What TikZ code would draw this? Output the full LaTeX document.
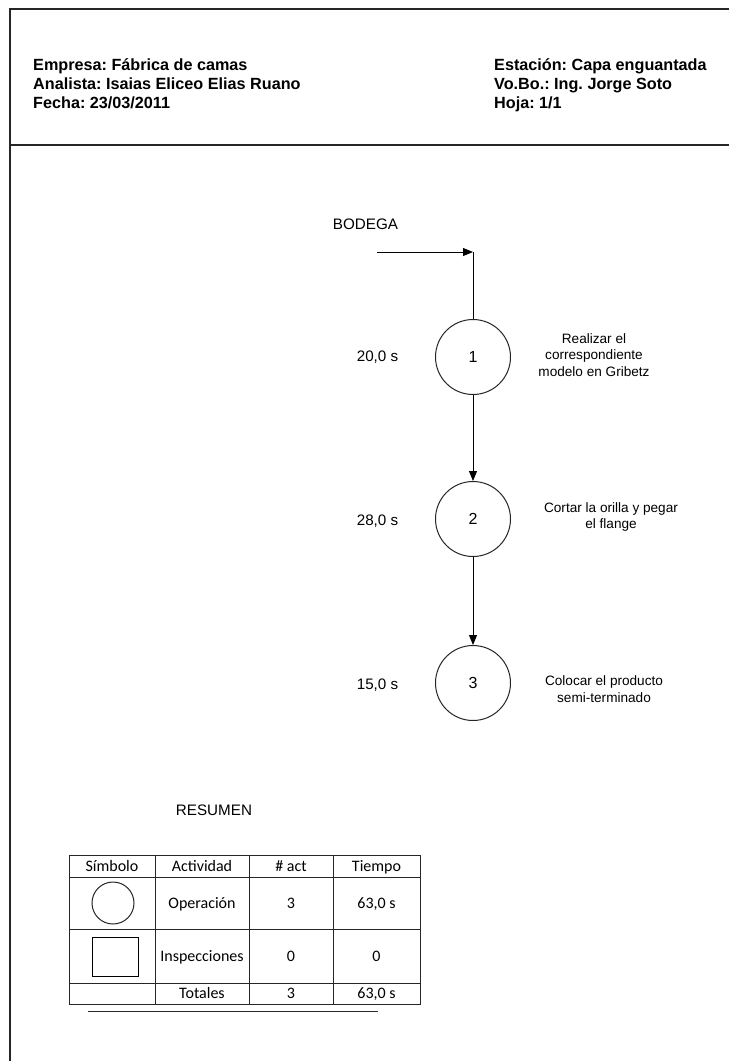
\documentclass[tikz,border=0pt]{standalone}
\usepackage{fontspec}
\setmainfont{Liberation Sans}
\newfontfamily\tabfont{Carlito}
\usetikzlibrary{arrows.meta}
\frenchspacing
\begin{document}
\begin{tikzpicture}[x=1pt,y=-1pt,
  frame/.style={line width=1.2pt,draw=black!85},
  head/.style={font=\fontsize{16.2}{18}\selectfont\bfseries,anchor=base west,inner sep=0},
  plain/.style={font=\fontsize{15.2}{18}\selectfont,inner sep=0,text height=11pt,text depth=0pt},
  desc/.style={font=\fontsize{13.6}{16.3}\selectfont,align=center,inner sep=0},
  opcircle/.style={circle,draw=black!85,line width=1pt,minimum size=75pt,inner sep=0,font=\fontsize{16}{18}\selectfont},
  flow/.style={line width=1pt,-{Triangle[length=10pt,width=8pt]}},
  tline/.style={line width=1pt,draw=black!85},
  cell/.style={font=\tabfont\fontsize{16}{18}\selectfont,inner sep=0,text height=11pt,text depth=3pt}]
\useasboundingbox (0,0) rectangle (729,1061);
\fill[white] (0,0) rectangle (729,1061);

% page frame and header band
\draw[frame] (729,9) -- (10,9) -- (10,1061);
\draw[frame] (10,145) -- (729,145);

\node[head] (emp) at (33,70) {Empresa: Fábrica de camas};
\node[head] (ana) at (33,89) {Analista: Isaias Eliceo Elias Ruano};
\node[head] (fec) at (33,108) {Fecha: 23/03/2011};
\node[head] (est) at (494,70) {Estación: Capa enguantada};
\node[head] (vob) at (494,89) {Vo.Bo.: Ing. Jorge Soto};
\node[head] (hoj) at (494,108) {Hoja: 1/1};

% process flow
\node[plain] (bodega) at (365.5,224) {BODEGA};
\coordinate (in) at (377,252);
\coordinate (turn) at (473,252);

\node[opcircle] (op1) at (473,357) {1};
\node[opcircle] (op2) at (473,519) {2};
\node[opcircle] (op3) at (473,683) {3};

\draw[flow] (in) -- (turn);
\draw[line width=1pt] (turn) -- (op1.north);
\draw[flow] (op1) -- (op2);
\draw[flow] (op2) -- (op3);

\node[plain] (t1) at (377.5,355.5) {20,0 s};
\node[plain] (t2) at (377.5,519.5) {28,0 s};
\node[plain] (t3) at (377.5,683.5) {15,0 s};

\node[desc] (d1) at (594,355) {Realizar el\\correspondiente\\modelo en Gribetz};
\node[desc] (d2) at (611,517) {Cortar la orilla y pegar\\el flange};
\node[desc] (d3) at (604,689) {Colocar el producto\\semi-terminado};

% summary table
\node[plain] (res) at (214,810) {RESUMEN};

\draw[tline] (69,855) rectangle (420,1004);
\foreach \y in {877,929,983} \draw[tline] (69,\y) -- (420,\y);
\foreach \x in {155,249,333} \draw[tline] (\x,855) -- (\x,1004);
\draw[tline] (88,1011) -- (378,1011);

\node[cell] (h1) at (112,867) {Símbolo};
\node[cell] (h2) at (202,867) {Actividad};
\node[cell] (h3) at (291,867) {\# act};
\node[cell] (h4) at (376.5,867) {Tiempo};

\node[circle,draw=black!85,line width=1pt,minimum size=42pt,inner sep=0] (symop) at (113,903) {};
\node[cell] (a1) at (202,904.5) {Operación};
\node[cell] (n1) at (291,904.5) {3};
\node[cell] (m1) at (376.5,904.5) {63,0 s};

\node[draw=black,line width=1pt,minimum width=46pt,minimum height=39pt,inner sep=0] (symin) at (115,956.5) {};
\node[cell] (a2) at (202,957) {Inspecciones};
\node[cell] (n2) at (291,957) {0};
\node[cell] (m2) at (376.5,957) {0};

\node[cell] (a3) at (202,994.5) {Totales};
\node[cell] (n3) at (291,994.5) {3};
\node[cell] (m3) at (376.5,994.5) {63,0 s};
\end{tikzpicture}
\end{document}
